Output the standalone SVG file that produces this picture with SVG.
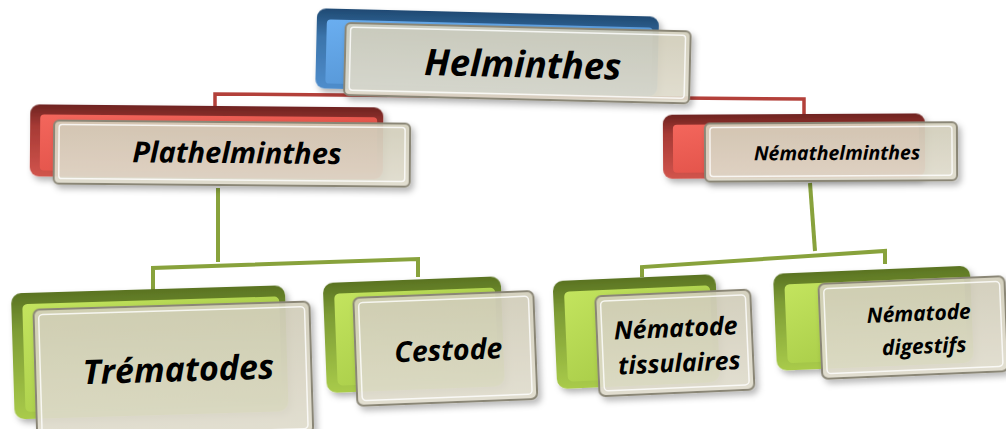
<svg xmlns="http://www.w3.org/2000/svg" width="1006" height="429" viewBox="0 0 1006 429">
<defs>
<linearGradient id="gBlue" x1="0" y1="0" x2="0" y2="1"><stop offset="0" stop-color="#1f4a73"/><stop offset="0.35" stop-color="#3b74aa"/><stop offset="1" stop-color="#4f8dcc"/></linearGradient>
<linearGradient id="gBlueIn" x1="0" y1="0" x2="1" y2="1"><stop offset="0" stop-color="#6aaef0"/><stop offset="1" stop-color="#4a88c6"/></linearGradient>
<linearGradient id="gRed" x1="0" y1="0" x2="0" y2="1"><stop offset="0" stop-color="#6e2320"/><stop offset="0.3" stop-color="#a63a35"/><stop offset="1" stop-color="#d1544c"/></linearGradient>
<linearGradient id="gRedIn" x1="0" y1="0" x2="1" y2="1"><stop offset="0" stop-color="#f3665c"/><stop offset="1" stop-color="#d9483f"/></linearGradient>
<linearGradient id="gGreen" x1="0" y1="0" x2="0" y2="1"><stop offset="0" stop-color="#5a7322"/><stop offset="0.3" stop-color="#7d9c35"/><stop offset="1" stop-color="#a9cb4a"/></linearGradient>
<linearGradient id="gGreenIn" x1="0" y1="0" x2="1" y2="1"><stop offset="0" stop-color="#c3e45e"/><stop offset="1" stop-color="#9cc13e"/></linearGradient>
<linearGradient id="gFront" x1="0" y1="0" x2="0" y2="1"><stop offset="0" stop-color="#d3cfbb"/><stop offset="1" stop-color="#e3dfd0"/></linearGradient>
<filter id="sh" x="-10%" y="-10%" width="130%" height="140%"><feDropShadow dx="3" dy="4" stdDeviation="3" flood-color="#000" flood-opacity="0.3"/></filter>
</defs>
<style>
.front{fill:url(#gFront);fill-opacity:0.9;stroke:#8a8676;stroke-width:2;filter:url(#sh)}
.hl{fill:none;stroke:#ffffff;stroke-opacity:0.8;stroke-width:1.5}
.lbl{font-family:"Open Sans","Noto Sans",sans-serif;font-weight:bold;font-style:italic;fill:#000;text-anchor:middle}
.red{fill:none;stroke:#b3403a;stroke-width:3.5}
.green{fill:none;stroke:#88a23c;stroke-width:4}
</style>
<g id="connectors">
<path class="red" d="M215,111 L215,94 L804,99 L804,117"/>
<path class="green" d="M218,188 L218,262"/>
<path class="green" d="M153,290 L153,268 L418,259 L418,277"/>
<path class="green" d="M810,183 L815,251"/>
<path class="green" d="M642,277 L642,267 L885,251 L885,264"/>
</g>
<g id="node-helminthes" transform="rotate(1.4 510 58)">
<rect x="316" y="13" width="342" height="80" rx="9" fill="url(#gBlue)" filter="url(#sh)"/>
<rect x="326" y="24" width="326" height="64" rx="4" fill="url(#gBlueIn)"/>
<rect class="front" x="345" y="27" width="345" height="72" rx="5"/>
<rect class="hl" x="350" y="31" width="335" height="63" rx="3"/>
<text class="lbl" x="523" y="77" font-size="36.5">Helminthes</text>
</g>
<g id="node-plathelminthes" transform="rotate(0.5 220 145)">
<rect x="30" y="106" width="353" height="72" rx="9" fill="url(#gRed)" filter="url(#sh)"/>
<rect x="40" y="116" width="337" height="56" rx="4" fill="url(#gRedIn)"/>
<rect class="front" x="54" y="122" width="356" height="63" rx="5"/>
<rect class="hl" x="59" y="126" width="346" height="54" rx="3"/>
<text class="lbl" x="237" y="163" font-size="29">Plathelminthes</text>
</g>
<g id="node-nemathelminthes" transform="rotate(-0.3 810 148)">
<rect x="663" y="114" width="262" height="64" rx="9" fill="url(#gRed)" filter="url(#sh)"/>
<rect x="673" y="124" width="246" height="48" rx="4" fill="url(#gRedIn)"/>
<rect class="front" x="705" y="123" width="252" height="58" rx="5"/>
<rect class="hl" x="710" y="127" width="242" height="49" rx="3"/>
<text class="lbl" x="837" y="160" font-size="19.5">Némathelminthes</text>
</g>
<g id="node-trematodes" transform="rotate(-1.7 160 360)">
<rect x="13" y="289" width="274" height="126" rx="10" fill="url(#gGreen)" filter="url(#sh)"/>
<rect x="24" y="300" width="257" height="108" rx="5" fill="url(#gGreenIn)"/>
<rect class="front" x="35" y="306" width="276" height="132" rx="6"/>
<rect class="hl" x="40" y="311" width="266" height="122" rx="4"/>
<text class="lbl" x="178" y="382" font-size="34">Trématodes</text>
</g>
<g id="node-cestode" transform="rotate(-2.2 430 340)">
<rect x="325" y="279" width="178" height="110" rx="10" fill="url(#gGreen)" filter="url(#sh)"/>
<rect x="336" y="290" width="161" height="92" rx="5" fill="url(#gGreenIn)"/>
<rect class="front" x="355" y="295" width="180" height="108" rx="6"/>
<rect class="hl" x="360" y="300" width="170" height="98" rx="4"/>
<text class="lbl" x="448" y="361" font-size="28.5">Cestode</text>
</g>
<g id="node-nematode-tissulaires" transform="rotate(-2.5 650 335)">
<rect x="555" y="277" width="163" height="108" rx="10" fill="url(#gGreen)" filter="url(#sh)"/>
<rect x="566" y="288" width="146" height="90" rx="5" fill="url(#gGreenIn)"/>
<rect class="front" x="597" y="294" width="155" height="100" rx="6"/>
<rect class="hl" x="602" y="299" width="145" height="90" rx="4"/>
<text class="lbl" x="676" y="338" font-size="25">Nématode</text>
<text class="lbl" x="678" y="373" font-size="25">tissulaires</text>
</g>
<g id="node-nematode-digestifs" transform="rotate(-2.4 890 320)">
<rect x="775" y="269" width="197" height="97" rx="10" fill="url(#gGreen)" filter="url(#sh)"/>
<rect x="786" y="280" width="180" height="79" rx="5" fill="url(#gGreenIn)"/>
<rect class="front" x="820" y="281" width="186" height="95" rx="6"/>
<rect class="hl" x="825" y="286" width="176" height="85" rx="4"/>
<text class="lbl" x="919" y="322" font-size="21">Nématode</text>
<text class="lbl" x="923" y="355" font-size="21">digestifs</text>
</g>
</svg>
